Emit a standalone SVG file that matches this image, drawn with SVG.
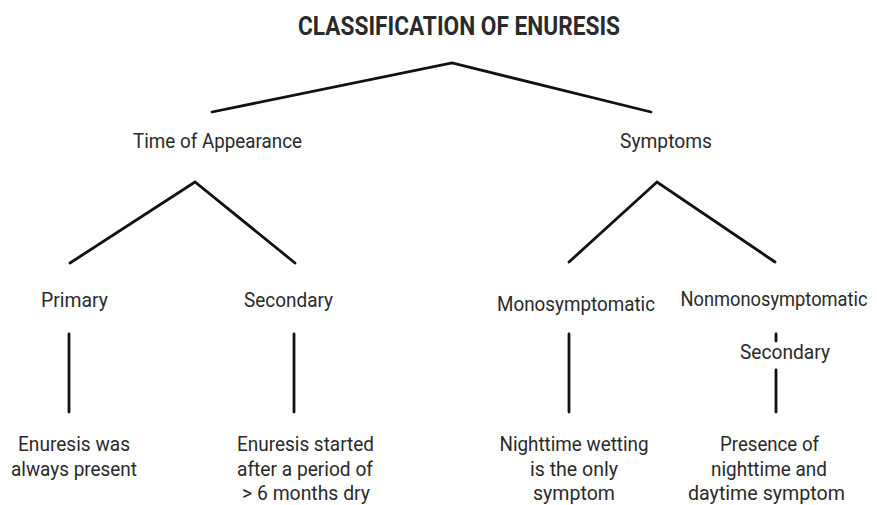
<svg xmlns="http://www.w3.org/2000/svg" width="877" height="505" viewBox="0 0 877 505">
<style>
text{font-family:Roboto,"Liberation Sans",sans-serif;fill:#2a2a2a;text-anchor:middle}
.t{font-size:25px;font-weight:bold}
.l{font-size:21px}
.d{font-size:20px}
.c{fill:none;stroke:#111;stroke-width:2.8;stroke-linecap:round;stroke-linejoin:miter}
</style>
<rect width="877" height="505" fill="#fff"/>
<g id="connectors">
<polyline class="c" points="212,112 452,63 651,112"/>
<polyline class="c" points="70,263 195,182 295,263"/>
<polyline class="c" points="569,262 657,182 775,262"/>
<line class="c" x1="69" y1="334" x2="69" y2="412"/>
<line class="c" x1="294" y1="334" x2="294" y2="412"/>
<line class="c" x1="569" y1="334" x2="569" y2="412"/>
<line class="c" x1="776" y1="334" x2="776" y2="341"/>
<line class="c" x1="776" y1="370" x2="776" y2="412"/>
</g>
<g id="title"><text class="t" x="459" y="35" textLength="322" lengthAdjust="spacingAndGlyphs">CLASSIFICATION OF ENURESIS</text></g>
<g id="time"><text class="l" x="217.5" y="148" textLength="169" lengthAdjust="spacingAndGlyphs">Time of Appearance</text></g>
<g id="symptoms"><text class="l" x="666" y="148" textLength="92" lengthAdjust="spacingAndGlyphs">Symptoms</text></g>
<g id="primary"><text class="l" x="74.5" y="307" textLength="67" lengthAdjust="spacingAndGlyphs">Primary</text></g>
<g id="secondary"><text class="l" x="288.5" y="307" textLength="89" lengthAdjust="spacingAndGlyphs">Secondary</text></g>
<g id="mono"><text class="l" x="576" y="311" textLength="158" lengthAdjust="spacingAndGlyphs">Monosymptomatic</text></g>
<g id="nonmono" transform="translate(774,306) scale(0.87,1)"><text class="l" x="0" y="0">Nonmonosymptomatic</text></g>
<g id="secondary2"><text class="l" x="785" y="359" textLength="90" lengthAdjust="spacingAndGlyphs">Secondary</text></g>
<g id="primary-desc">
<text class="d" x="74" y="451" textLength="112" lengthAdjust="spacingAndGlyphs">Enuresis was</text>
<text class="d" x="74" y="476" textLength="126" lengthAdjust="spacingAndGlyphs">always present</text>
</g>
<g id="secondary-desc">
<text class="d" x="305.5" y="451" textLength="137" lengthAdjust="spacingAndGlyphs">Enuresis started</text>
<text class="d" x="305" y="476" textLength="136" lengthAdjust="spacingAndGlyphs">after a period of</text>
<text class="d" x="306" y="500" textLength="128" lengthAdjust="spacingAndGlyphs">&gt; 6 months dry</text>
</g>
<g id="mono-desc">
<text class="d" x="574" y="451" textLength="149" lengthAdjust="spacingAndGlyphs">Nighttime wetting</text>
<text class="d" x="574" y="476" textLength="88" lengthAdjust="spacingAndGlyphs">is the only</text>
<text class="d" x="574" y="500" textLength="82" lengthAdjust="spacingAndGlyphs">symptom</text>
</g>
<g id="nonmono-desc">
<text class="d" x="769.5" y="451" textLength="99" lengthAdjust="spacingAndGlyphs">Presence of</text>
<text class="d" x="769" y="476" textLength="116" lengthAdjust="spacingAndGlyphs">nighttime and</text>
<text class="d" x="766.5" y="500" textLength="157" lengthAdjust="spacingAndGlyphs">daytime symptom</text>
</g>
</svg>
